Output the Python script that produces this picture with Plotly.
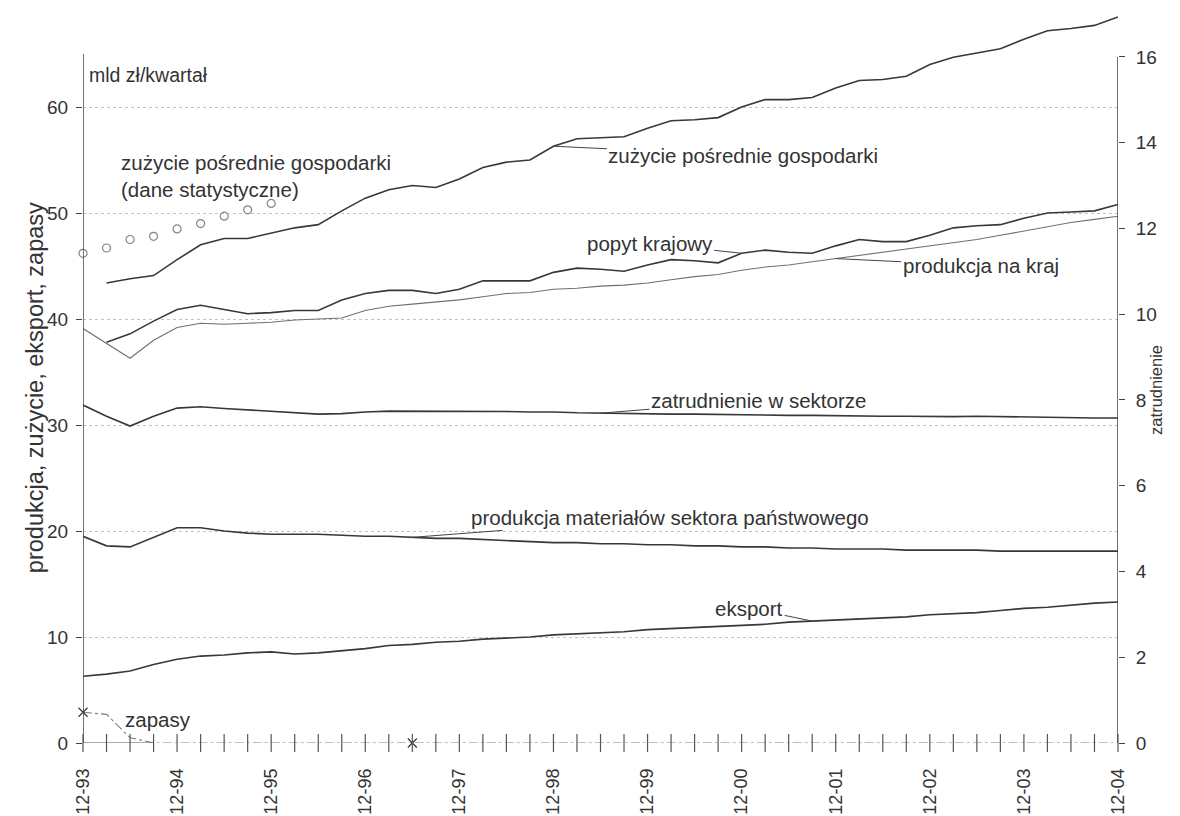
import plotly.graph_objects as go

# ---------------------------------------------------------------------------
# Dane (kwartały 12-93 ... 12-04, indeks 0..44)
# ---------------------------------------------------------------------------
kwartaly = list(range(45))
etykiety_lat = ["12-93", "12-94", "12-95", "12-96", "12-97", "12-98",
                "12-99", "12-00", "12-01", "12-02", "12-03", "12-04"]

zuzycie_model = [None, 43.4, 43.8, 44.1, 45.6, 47.0, 47.6, 47.6, 48.1, 48.6,
                 48.9, 50.2, 51.4, 52.2, 52.6, 52.4, 53.2, 54.3, 54.8, 55.0,
                 56.3, 57.0, 57.1, 57.2, 58.0, 58.7, 58.8, 59.0, 60.0, 60.7,
                 60.7, 60.9, 61.8, 62.5, 62.6, 62.9, 64.0, 64.7, 65.1, 65.5,
                 66.4, 67.2, 67.4, 67.7, 68.5]

zuzycie_stat = [46.2, 46.7, 47.5, 47.8, 48.5, 49.0, 49.7, 50.3, 50.9]

popyt = [None, 37.8, 38.6, 39.8, 40.9, 41.3, 40.9, 40.5, 40.6, 40.8,
         40.8, 41.8, 42.4, 42.7, 42.7, 42.4, 42.8, 43.6, 43.6, 43.6,
         44.4, 44.8, 44.7, 44.5, 45.1, 45.6, 45.5, 45.3, 46.2, 46.5,
         46.3, 46.2, 46.9, 47.5, 47.3, 47.3, 47.9, 48.6, 48.8, 48.9,
         49.5, 50.0, 50.1, 50.2, 50.8]

produkcja_kraj = [39.1, 37.7, 36.3, 38.0, 39.2, 39.6, 39.5, 39.6, 39.7, 39.9,
                  40.0, 40.1, 40.8, 41.2, 41.4, 41.6, 41.8, 42.1, 42.4, 42.5,
                  42.8, 42.9, 43.1, 43.2, 43.4, 43.7, 44.0, 44.2, 44.6, 44.9,
                  45.1, 45.4, 45.7, 46.0, 46.3, 46.6, 46.9, 47.2, 47.5, 47.9,
                  48.3, 48.7, 49.1, 49.4, 49.7]

zatrudnienie = [7.88, 7.62, 7.39, 7.62, 7.81, 7.84, 7.80, 7.77, 7.74, 7.70,
                7.67, 7.68, 7.72, 7.74, 7.74, 7.73, 7.73, 7.73, 7.73, 7.72,
                7.72, 7.70, 7.69, 7.68, 7.68, 7.67, 7.67, 7.66, 7.66, 7.65,
                7.64, 7.64, 7.63, 7.63, 7.62, 7.62, 7.61, 7.61, 7.62, 7.61,
                7.60, 7.60, 7.59, 7.58, 7.58]

produkcja_mat = [19.5, 18.6, 18.5, 19.4, 20.3, 20.3, 20.0, 19.8, 19.7, 19.7,
                 19.7, 19.6, 19.5, 19.5, 19.4, 19.3, 19.3, 19.2, 19.1, 19.0,
                 18.9, 18.9, 18.8, 18.8, 18.7, 18.7, 18.6, 18.6, 18.5, 18.5,
                 18.4, 18.4, 18.3, 18.3, 18.3, 18.2, 18.2, 18.2, 18.2, 18.1,
                 18.1, 18.1, 18.1, 18.1, 18.1]

eksport = [6.3, 6.5, 6.8, 7.4, 7.9, 8.2, 8.3, 8.5, 8.6, 8.4,
           8.5, 8.7, 8.9, 9.2, 9.3, 9.5, 9.6, 9.8, 9.9, 10.0,
           10.2, 10.3, 10.4, 10.5, 10.7, 10.8, 10.9, 11.0, 11.1, 11.2,
           11.4, 11.5, 11.6, 11.7, 11.8, 11.9, 12.1, 12.2, 12.3, 12.5,
           12.7, 12.8, 13.0, 13.2, 13.3]

zapasy = [2.9, 2.7, 0.5, 0.0, 0.0, 0.0, 0.0, 0.0, 0.0, 0.0,
          0.0, 0.0, 0.0, 0.0, 0.0, 0.0, 0.0, 0.0, 0.0, 0.0,
          0.0, 0.0, 0.0, 0.0, 0.0, 0.0, 0.0, 0.0, 0.0, 0.0,
          0.0, 0.0, 0.0, 0.0, 0.0, 0.0, 0.0, 0.0, 0.0, 0.0,
          0.0, 0.0, 0.0, 0.0, 0.0]
zapasy_znaczniki = [0, 14]

lewa_ticki = [0, 10, 20, 30, 40, 50, 60]
prawa_ticki = [0, 2, 4, 6, 8, 10, 12, 14, 16]

# ---------------------------------------------------------------------------
# Styl
# ---------------------------------------------------------------------------
LINIA = "#383838"
JASNA = "#707070"
TEKST = "#333333"
FONT = "Arial, Liberation Sans, sans-serif"
F_OPIS = 20.5

Y_MAX = 69.34
Y2_MAX = 17.14

fig = go.Figure()


def linia(y, kolor=LINIA, w=1.6, os="y", dash="solid"):
    fig.add_trace(go.Scatter(
        x=kwartaly, y=y, mode="lines", yaxis=os,
        line=dict(color=kolor, width=w, dash=dash),
        connectgaps=False, showlegend=False, hoverinfo="skip",
    ))


linia(zuzycie_model)
linia(popyt)
linia(produkcja_kraj, kolor=JASNA, w=1.1)
linia(zatrudnienie, os="y2")
linia(produkcja_mat)
linia(eksport)
linia(zapasy, kolor="#808080", w=1.1, dash="dashdot")

fig.add_trace(go.Scatter(
    x=kwartaly[:len(zuzycie_stat)], y=zuzycie_stat, mode="markers",
    marker=dict(symbol="circle-open", size=8, color="#858585",
                line=dict(width=1.2, color="#858585")),
    showlegend=False, hoverinfo="skip", cliponaxis=False,
))
fig.add_trace(go.Scatter(
    x=zapasy_znaczniki, y=[zapasy[i] for i in zapasy_znaczniki],
    mode="markers",
    marker=dict(symbol="x-thin-open", size=9, color=LINIA,
                line=dict(width=1.2, color=LINIA)),
    showlegend=False, hoverinfo="skip", cliponaxis=False,
))
# kreski osi X przecinające oś
fig.add_trace(go.Scatter(
    x=kwartaly, y=[0] * len(kwartaly), mode="markers",
    marker=dict(symbol="line-ns-open", size=13, color="#555555",
                line=dict(width=1.2, color="#555555")),
    showlegend=False, hoverinfo="skip", cliponaxis=False,
))

# osie pionowe (rysowane tylko do 65 / 16)
fig.add_shape(type="line", xref="x", yref="y", x0=0, x1=0, y0=0, y1=65,
              line=dict(color="#444444", width=1.5))
fig.add_shape(type="line", xref="x", yref="y2", x0=44, x1=44, y0=0, y1=16,
              line=dict(color="#444444", width=1.5))
fig.add_shape(type="line", xref="x", yref="y", x0=0, x1=3, y0=0, y1=0,
              line=dict(color="#555555", width=1.2))


# ---------------------------------------------------------------------------
# Opisy
# ---------------------------------------------------------------------------
def opis(tekst, i, y, ax, ay, os="y"):
    fig.add_annotation(
        x=i, y=y, xref="x", yref=os, text=tekst, showarrow=True,
        arrowhead=0, arrowwidth=1, arrowcolor="#444444", ax=ax, ay=ay,
        standoff=0, startstandoff=0,
        font=dict(size=F_OPIS, color=TEKST, family=FONT),
    )


opis("zużycie pośrednie gospodarki", 20, zuzycie_model[20], 190, 9)
opis("popyt krajowy", 28, popyt[28], -92, -10)
opis("produkcja na kraj", 32, produkcja_kraj[32], 145, 7)
opis("zatrudnienie w sektorze", 22, zatrudnienie[22], 158, -13, os="y2")
opis("produkcja materiałów sektora państwowego", 14, produkcja_mat[14], 258, -20)
opis("eksport", 31, eksport[31], -63, -13)

fig.add_annotation(x=1.55, y=53.5, xref="x", yref="y", xanchor="left",
                   align="left", showarrow=False,
                   text="zużycie pośrednie gospodarki<br>(dane statystyczne)",
                   font=dict(size=F_OPIS, color=TEKST, family=FONT))
fig.add_annotation(x=3.2, y=2.2, xref="x", yref="y", showarrow=False,
                   text="zapasy",
                   font=dict(size=F_OPIS, color=TEKST, family=FONT))
fig.add_annotation(x=0.004, y=0.9265, xref="paper", yref="paper",
                   xanchor="left", showarrow=False, text="mld zł/kwartał",
                   font=dict(size=19.5, color=TEKST, family=FONT))
fig.add_annotation(x=-0.061, y=0.484, xref="paper", yref="paper",
                   textangle=-90, showarrow=False,
                   text="produkcja, zużycie, eksport, zapasy",
                   font=dict(size=23.5, color=TEKST, family=FONT))
fig.add_annotation(x=1.048, y=0.480, xref="paper", yref="paper",
                   textangle=-90, showarrow=False, text="zatrudnienie",
                   font=dict(size=16.5, color=TEKST, family=FONT))

# ---------------------------------------------------------------------------
# Układ (strona ma 8 px marginesu, stąd 1172 x 808)
# ---------------------------------------------------------------------------
fig.update_layout(
    width=1172, height=808,
    margin=dict(l=75, r=62, t=0, b=73, autoexpand=False),
    paper_bgcolor="white", plot_bgcolor="white",
    font=dict(family=FONT, color=TEKST),
    xaxis=dict(
        range=[0, 44], showgrid=False, zeroline=False, showline=False,
        automargin=False,
        tickmode="array", tickvals=kwartaly,
        ticktext=[etykiety_lat[i // 4] if i % 4 == 0 else "" for i in kwartaly],
        ticks="", tickangle=-90, tickfont=dict(size=18, color=TEKST),
        ticklabelstandoff=21,
    ),
    yaxis=dict(
        range=[0, Y_MAX], tickmode="array", tickvals=lewa_ticki,
        showgrid=True, gridcolor="#c2c2c2", griddash="dot", gridwidth=1,
        zeroline=False, showline=False, automargin=False,
        ticks="outside", ticklen=6, tickcolor="#444444",
        tickfont=dict(size=19, color=TEKST), ticklabelstandoff=4,
    ),
    yaxis2=dict(
        range=[0, Y2_MAX], overlaying="y", side="right", anchor="x",
        tickmode="array", tickvals=prawa_ticki, showgrid=False,
        zeroline=False, showline=False, automargin=False,
        ticks="outside", ticklen=6, tickcolor="#444444",
        tickfont=dict(size=19, color=TEKST), ticklabelstandoff=7,
    ),
)

fig.write_html("out.html")
